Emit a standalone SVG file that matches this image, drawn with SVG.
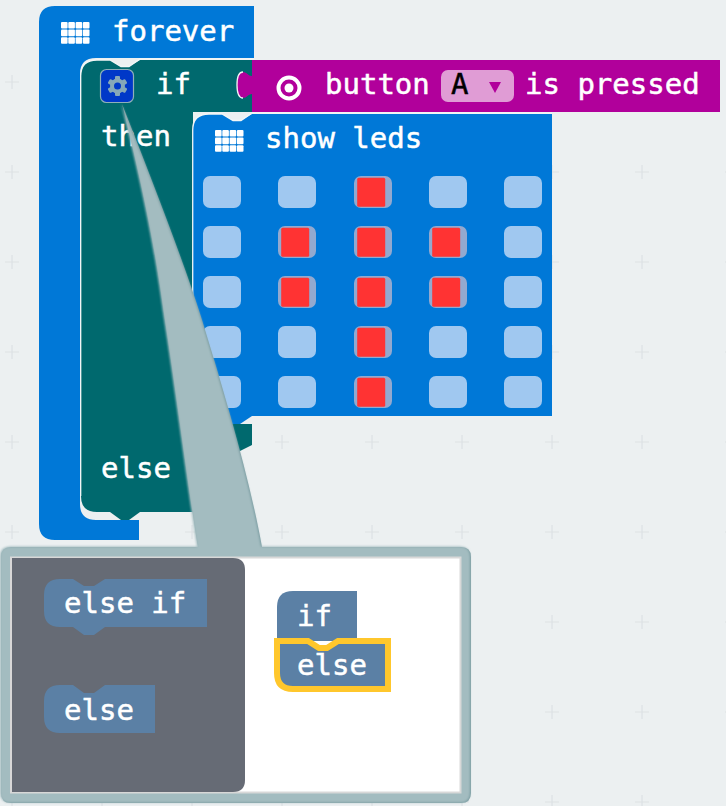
<svg xmlns="http://www.w3.org/2000/svg" xmlns:xlink="http://www.w3.org/1999/xlink" width="726" height="806" viewBox="0 0 726 806">
<style>
text{font-family:"DejaVu Sans Mono","Liberation Mono",monospace;font-size:29px;fill:#fff;stroke:#fff;stroke-width:.5px}
.hl{fill:none;stroke:#f2f6f6;stroke-width:1.3}
.off{fill:#a0c8f0}
.onb{fill:#93a9cf}
.onr{fill:#ff3333}
.flyb{fill:#5b80a5}
</style>
<defs>
<path id="plus" d="M-7 0H7M0-7V7" fill="none" stroke="#dde2e4" stroke-width="1.2"/>
<g id="grid" fill="#fff">
<rect x="0" y="0" width="6.6" height="6.6" rx="1"/><rect x="7.3" y="0" width="6.6" height="6.6" rx="1"/><rect x="14.6" y="0" width="6.6" height="6.6" rx="1"/><rect x="21.9" y="0" width="6.6" height="6.6" rx="1"/>
<rect x="0" y="7.6" width="6.6" height="6.6" rx="1"/><rect x="7.3" y="7.6" width="6.6" height="6.6" rx="1"/><rect x="14.6" y="7.6" width="6.6" height="6.6" rx="1"/><rect x="21.9" y="7.6" width="6.6" height="6.6" rx="1"/>
<rect x="0" y="15.2" width="6.6" height="6.6" rx="1"/><rect x="7.3" y="15.2" width="6.6" height="6.6" rx="1"/><rect x="14.6" y="15.2" width="6.6" height="6.6" rx="1"/><rect x="21.9" y="15.2" width="6.6" height="6.6" rx="1"/>
</g>
<rect id="ledoff" class="off" width="38" height="32" rx="7"/>
<g id="ledon"><rect class="onb" width="38" height="32" rx="7"/><rect class="onr" x="3.2" y="1.7" width="28" height="29" rx="1.5"/></g>
<filter id="soft" x="-5%" y="-5%" width="110%" height="110%"><feGaussianBlur stdDeviation="1"/></filter>
<path id="callout-shape" d="M1 557Q1 547 11 547H198C190 500 176 390 165 320C158 270 150 215 122 104C150 175 185 265 202 320C225 395 250 480 262 547H461Q471 547 471 557V793Q471 803 461 803H11Q1 803 1 793Z"/>
</defs>
<rect width="726" height="806" fill="#ecf0f1"/>
<g id="background-grid">
<use xlink:href="#plus" x="12" y="82"/>
<use xlink:href="#plus" x="12" y="172"/><use xlink:href="#plus" x="552" y="172"/><use xlink:href="#plus" x="642" y="172"/><use xlink:href="#plus" x="732" y="172"/>
<use xlink:href="#plus" x="12" y="262"/><use xlink:href="#plus" x="552" y="262"/><use xlink:href="#plus" x="642" y="262"/><use xlink:href="#plus" x="732" y="262"/>
<use xlink:href="#plus" x="12" y="352"/><use xlink:href="#plus" x="552" y="352"/><use xlink:href="#plus" x="642" y="352"/><use xlink:href="#plus" x="732" y="352"/>
<use xlink:href="#plus" x="12" y="442"/><use xlink:href="#plus" x="282" y="442"/><use xlink:href="#plus" x="372" y="442"/><use xlink:href="#plus" x="462" y="442"/><use xlink:href="#plus" x="552" y="442"/><use xlink:href="#plus" x="642" y="442"/><use xlink:href="#plus" x="732" y="442"/>
<use xlink:href="#plus" x="12" y="532"/><use xlink:href="#plus" x="192" y="532"/><use xlink:href="#plus" x="282" y="532"/><use xlink:href="#plus" x="372" y="532"/><use xlink:href="#plus" x="462" y="532"/><use xlink:href="#plus" x="552" y="532"/><use xlink:href="#plus" x="642" y="532"/><use xlink:href="#plus" x="732" y="532"/>
<use xlink:href="#plus" x="552" y="622"/><use xlink:href="#plus" x="642" y="622"/><use xlink:href="#plus" x="732" y="622"/>
<use xlink:href="#plus" x="552" y="712"/><use xlink:href="#plus" x="642" y="712"/><use xlink:href="#plus" x="732" y="712"/>
<use xlink:href="#plus" x="12" y="802"/><use xlink:href="#plus" x="102" y="802"/><use xlink:href="#plus" x="192" y="802"/><use xlink:href="#plus" x="282" y="802"/><use xlink:href="#plus" x="372" y="802"/><use xlink:href="#plus" x="462" y="802"/><use xlink:href="#plus" x="552" y="802"/><use xlink:href="#plus" x="642" y="802"/>
</g>
<g id="forever">
<path fill="#0078d7" d="M55 6H254V58H96Q80 58 80 74V504Q80 520 96 520H139V540H55Q39 540 39 524V22Q39 6 55 6Z"/>
<use xlink:href="#grid" x="61" y="22"/>
<text x="112" y="41">forever</text>
</g>
<g id="if">
<path fill="#00696e" d="M81 76Q81 60 97 60H110L121 66.5H129L140 60H252V112H193V424H252V445L240 451H220V512H140L129 520H121L110 512H97Q81 512 81 496Z"/>
<path class="hl" d="M80.700 496V76Q80.700 60 97 60H110L121 66.500H129L140 59H254"/>
<g id="gear">
<rect x="100.500" y="69.500" width="33" height="33" rx="6" fill="#0038c8" stroke="#8fb0b8" stroke-width="1.200"/>
<g fill="#86a8b8">
<rect x="115" y="76" width="5" height="20" rx="1"/>
<rect x="115" y="76" width="5" height="20" rx="1" transform="rotate(60 117.500 86)"/>
<rect x="115" y="76" width="5" height="20" rx="1" transform="rotate(120 117.500 86)"/>
<circle cx="117.500" cy="86" r="7.500"/>
</g>
<circle cx="117.500" cy="86" r="3.500" fill="#0038c8"/>
</g>
<text x="156" y="94">if</text>
<text x="101" y="146">then</text>
<text x="101" y="478">else</text>
</g>
<g id="button-pressed">
<path fill="#b1009b" d="M252 60H720V112H252V94C248 94 247 98 243 98C238 98 237 92 237 85C237 80 238 72 243 72C247 72 248 76 252 76Z"/>
<path class="hl" d="M243 98C238 98 237 92 237 85C237 80 238 72 243 72"/>
<circle cx="289" cy="88" r="10.500" fill="none" stroke="#fff" stroke-width="4"/>
<circle cx="289" cy="88" r="4.500" fill="#fff"/>
<text x="325" y="94">button</text>
<rect x="441" y="70" width="73" height="32" rx="7" fill="#e09cd5"/>
<text x="451" y="94" style="fill:#000;stroke:#000">A</text>
<path d="M489 82H501L495 93Z" fill="#b1009b"/>
<text x="525" y="94">is pressed</text>
</g>
<g id="show-leds">
<path fill="#0078d7" d="M193 130Q193 114 209 114H222L233 120.500H241L252 114H552V416H252L240 424H232L222 416H209Q193 416 193 400Z"/>
<path class="hl" d="M192.700 400V130Q192.700 114 209 114H222L233 120.500H241L252 113H552"/>
<use xlink:href="#grid" x="215" y="130"/>
<text x="265" y="148">show leds</text>
<use xlink:href="#ledoff" x="203" y="176"/><use xlink:href="#ledoff" x="278" y="176"/><use xlink:href="#ledon" x="354" y="176"/><use xlink:href="#ledoff" x="429" y="176"/><use xlink:href="#ledoff" x="504" y="176"/>
<use xlink:href="#ledoff" x="203" y="226"/><use xlink:href="#ledon" x="278" y="226"/><use xlink:href="#ledon" x="354" y="226"/><use xlink:href="#ledon" x="429" y="226"/><use xlink:href="#ledoff" x="504" y="226"/>
<use xlink:href="#ledoff" x="203" y="276"/><use xlink:href="#ledon" x="278" y="276"/><use xlink:href="#ledon" x="354" y="276"/><use xlink:href="#ledon" x="429" y="276"/><use xlink:href="#ledoff" x="504" y="276"/>
<use xlink:href="#ledoff" x="203" y="326"/><use xlink:href="#ledoff" x="278" y="326"/><use xlink:href="#ledon" x="354" y="326"/><use xlink:href="#ledoff" x="429" y="326"/><use xlink:href="#ledoff" x="504" y="326"/>
<use xlink:href="#ledoff" x="203" y="376"/><use xlink:href="#ledoff" x="278" y="376"/><use xlink:href="#ledon" x="354" y="376"/><use xlink:href="#ledoff" x="429" y="376"/><use xlink:href="#ledoff" x="504" y="376"/>
</g>
<g id="callout">
<use xlink:href="#callout-shape" fill="#7a9ca1"/>
<use xlink:href="#callout-shape" fill="#a3bcc0" filter="url(#soft)" x="-1" y="-0.500"/>
<rect x="11" y="557.500" width="449.500" height="235" fill="#fff" stroke="#d8d8d8" stroke-width="2"/>
</g>
<g id="flyout">
<path fill="#666b75" d="M12 558H233Q245 558 245 570V780Q245 792 233 792H12Z"/>
<g id="fly-else-if">
<path class="flyb" d="M60 579H73L84 586H94L105 579H207V627H105L94 635H84L73 627H60Q44 627 44 611V595Q44 579 60 579Z"/>
<text x="64" y="613">else if</text>
</g>
<g id="fly-else">
<path class="flyb" d="M60 685H73L84 693H94L105 685H155V733H60Q44 733 44 717V701Q44 685 60 685Z"/>
<text x="64" y="720">else</text>
</g>
</g>
<g id="workspace-if">
<path class="flyb" d="M293 591H357V641H277V607Q277 591 293 591Z"/>
<text x="297" y="626">if</text>
</g>
<g id="workspace-else">
<path class="flyb" stroke="#ffc72c" stroke-width="6" d="M277 641H308L319 648H327L338 641H388V689H293Q277 689 277 673Z"/>
<text x="297" y="675">else</text>
</g>
</svg>
